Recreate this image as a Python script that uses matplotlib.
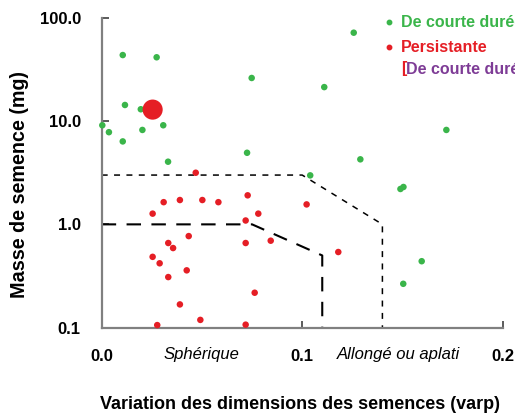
import matplotlib
matplotlib.use("Agg")
import matplotlib.pyplot as plt
from matplotlib.lines import Line2D

plt.rcParams['font.family'] = ['Liberation Sans', 'DejaVu Sans']
plt.rcParams['lines.scale_dashes'] = False

# Data: seed shape variance (varp) vs seed mass (mg)
green_x = [0.0105, 0.0274, 0.0116, 0.0195, 0.0003, 0.0036, 0.0105, 0.0203, 0.0307,
           0.0331, 0.0725, 0.0748, 0.1257, 0.1110, 0.1719, 0.1290, 0.1040, 0.1490,
           0.1505, 0.1596, 0.1504]
green_y = [43.5, 41.4, 14.3, 13.0, 9.1, 7.8, 6.35, 8.2, 9.1,
           4.04, 4.93, 26.1, 71.6, 21.3, 8.2, 4.26, 2.98, 2.2,
           2.3, 0.44, 0.266]

red_x = [0.0469, 0.0309, 0.0390, 0.0502, 0.0582, 0.0728, 0.1022, 0.0254, 0.0332,
         0.0356, 0.0434, 0.0254, 0.0289, 0.0332, 0.0424, 0.0390, 0.0492, 0.0277,
         0.0718, 0.0718, 0.0763, 0.0718, 0.0781, 0.0843, 0.1180]
red_y = [3.16, 1.64, 1.72, 1.72, 1.64, 1.91, 1.56, 1.27, 0.66,
         0.59, 0.77, 0.485, 0.42, 0.309, 0.359, 0.168, 0.119, 0.106,
         1.09, 0.66, 0.218, 0.107, 1.27, 0.695, 0.54]

big_x = [0.0254]
big_y = [12.9]

# Boundary lines
upper_x = [0.0, 0.10, 0.14, 0.14]
upper_y = [3.0, 3.0, 1.0, 0.1]
lower_x = [0.0, 0.075, 0.11, 0.11]
lower_y = [1.0, 1.0, 0.5, 0.1]

xticks = [0.0, 0.1, 0.2]
xtick_labels = ["0.0", "0.1", "0.2"]
yticks = [0.1, 1.0, 10.0, 100.0]
ytick_labels = ["0.1", "1.0", "10.0", "100.0"]

GREEN = "#3AB54A"
RED = "#E51E25"
PURPLE = "#7E3C96"
GRAY = "#808080"

W, H = 515, 419
fig = plt.figure(figsize=(W / 100, H / 100), dpi=100)
ax = fig.add_axes([101.7 / W, 1 - 327.7 / H, (502.7 - 101.7) / W, (327.7 - 17.7) / H])

ax.set_yscale('log')
ax.set_xlim(0, 0.2)
ax.set_ylim(0.1, 100)

ax.plot(upper_x, upper_y, color='black', lw=1.1, dashes=(4.3, 4.6), zorder=2)
ax.plot(lower_x, lower_y, color='black', lw=1.5, dashes=(10.4, 7.5), zorder=2)

ax.scatter(green_x, green_y, s=22, color=GREEN, edgecolors='none', zorder=3, clip_on=False)
ax.scatter(red_x, red_y, s=22, color=RED, edgecolors='none', zorder=3, clip_on=False)
ax.scatter(big_x, big_y, s=210, color=RED, edgecolors='none', zorder=4)

for s in ['top', 'right']:
    ax.spines[s].set_visible(False)
for s in ['left', 'bottom']:
    ax.spines[s].set_color(GRAY)
    ax.spines[s].set_linewidth(1.6)

ax.set_xticks(xticks)
ax.set_xticklabels(xtick_labels)
ax.set_yticks(yticks)
ax.set_yticklabels(ytick_labels)
ax.minorticks_off()
ax.tick_params(axis='both', direction='in', length=5, width=1.2, color='#404040',
               labelsize=12, pad=15)
for lab in ax.get_xticklabels() + ax.get_yticklabels():
    lab.set_fontweight('bold')

ax.text(0.05, -0.088, "Sphérique", transform=ax.get_xaxis_transform(),
        ha='center', va='center', fontsize=12, style='italic')
ax.text(0.148, -0.088, "Allongé ou aplati", transform=ax.get_xaxis_transform(),
        ha='center', va='center', fontsize=12, style='italic')

fig.text(20 / W, 1 - 184 / H, "Masse de semence (mg)", rotation=90, ha='center', va='center',
         fontsize=14.2, fontweight='bold')
fig.text(300 / W, 1 - 404 / H, "Variation des dimensions des semences (varp)", ha='center',
         va='center', fontsize=13, fontweight='bold')

# Legend (manual, cut by the right edge as in the reference)
fig.add_artist(Line2D([389.3 / W], [1 - 22.3 / H], marker='o', markersize=3.2, color=GREEN,
                      linestyle='none', transform=fig.transFigure))
fig.add_artist(Line2D([389.3 / W], [1 - 47 / H], marker='o', markersize=3.2, color=RED,
                      linestyle='none', transform=fig.transFigure))
fig.text(400.7 / W, 1 - 22.3 / H, "De courte durée", color=GREEN, fontsize=11.5,
         fontweight='bold', ha='left', va='center')
fig.text(400.7 / W, 1 - 47 / H, "Persistante", color=RED, fontsize=11.5,
         fontweight='bold', ha='left', va='center')
fig.text(400.7 / W, 1 - 69 / H, "[", color=RED, fontsize=11.5,
         fontweight='bold', ha='left', va='center')
fig.text(406.5 / W, 1 - 69 / H, "De courte durée", color=PURPLE, fontsize=11.5,
         fontweight='bold', ha='left', va='center')

fig.savefig("out.png", dpi=100)
